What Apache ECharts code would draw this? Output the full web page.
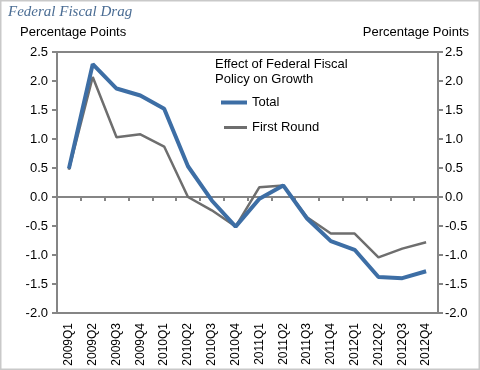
<!DOCTYPE html>
<html>
<head>
<meta charset="utf-8">
<script src="https://cdn.jsdelivr.net/npm/echarts@6/dist/echarts.min.js"></script>
<style>
html,body{margin:0;padding:0;background:#fff;}
#chart{width:480px;height:370px;}
</style>
</head>
<body>
<div id="chart"></div>
<script>
var categories = ["2009Q1","2009Q2","2009Q3","2009Q4","2010Q1","2010Q2","2010Q3","2010Q4","2011Q1","2011Q2","2011Q3","2011Q4","2012Q1","2012Q2","2012Q3","2012Q4"];
var totalValues = [0.49, 2.29, 1.87, 1.75, 1.52, 0.53, -0.06, -0.51, -0.03, 0.20, -0.37, -0.76, -0.91, -1.38, -1.40, -1.28];
var firstRoundValues = [0.47, 2.07, 1.03, 1.08, 0.87, 0.00, -0.23, -0.51, 0.17, 0.20, -0.35, -0.63, -0.63, -1.04, -0.89, -0.78];
var yMin = -2.0, yMax = 2.5, yStep = 0.5;
var seriesNames = ["Total", "First Round"];
var titleText = "Federal Fiscal Drag";
var axisTitle = "Percentage Points";
var legendTitle = ["Effect of Federal Fiscal", "Policy on Growth"];

var chart = echarts.init(document.getElementById('chart'), null, {renderer: 'canvas'});
var font = '"Liberation Sans", Arial, sans-serif';
var axisGray = '#858585';
var fmt = function (v) { return v.toFixed(1); };
var blue = '#3d6ea5', gray = '#6e6e6e';

var option = {
  backgroundColor: '#ffffff',
  animation: false,
  textStyle: {fontFamily: font},
  grid: {left: 57, right: 42, top: 52, bottom: 57, show: true, borderColor: axisGray, borderWidth: 2},
  graphic: [
    {type: 'rect', shape: {x: 0.5, y: 0.5, width: 479, height: 369}, style: {fill: 'none', stroke: '#c9c9c9', lineWidth: 2}, z: 100},
    {type: 'text', left: 8, top: 5, style: {text: titleText, font: 'italic 15px "Liberation Serif", "DejaVu Serif", serif', fill: '#4b6d94'}},
    {type: 'text', left: 20, top: 26, style: {text: axisTitle, font: '13px ' + font, fill: '#000'}},
    {type: 'text', right: 11, top: 26, style: {text: axisTitle, font: '13px ' + font, fill: '#000'}},
    {type: 'text', left: 215, top: 57, style: {text: legendTitle.join('\n'), font: '13px ' + font, fill: '#000', lineHeight: 15}}
  ],
  legend: [
    {
      orient: 'vertical', left: 216, top: 91, itemWidth: 26, itemHeight: 4, icon: 'rect',
      data: [seriesNames[0]], selectedMode: false,
      textStyle: {fontSize: 13, color: '#000', fontFamily: font}
    },
    {
      orient: 'vertical', left: 219, top: 116, itemWidth: 23, itemHeight: 3, icon: 'rect',
      data: [seriesNames[1]], selectedMode: false,
      textStyle: {fontSize: 13, color: '#000', fontFamily: font}
    }
  ],
  xAxis: [
    {
      type: 'category', data: categories, position: 'bottom',
      axisLine: {show: true, onZero: false, lineStyle: {color: axisGray, width: 2}},
      axisTick: {show: false},
      axisLabel: {rotate: 90, margin: 10, fontSize: 12, color: '#000', fontFamily: font, interval: 0}
    },
    {
      type: 'category', data: categories, position: 'bottom',
      axisLine: {show: true, onZero: true, onZeroAxisIndex: 0, lineStyle: {color: axisGray, width: 2}},
      axisTick: {show: true, length: 4, interval: 0, lineStyle: {color: axisGray, width: 2}},
      axisLabel: {show: false}
    }
  ],
  yAxis: [
    {
      type: 'value', min: yMin, max: yMax, interval: yStep, position: 'left',
      axisLine: {show: true, lineStyle: {color: axisGray, width: 2}},
      axisTick: {show: true, length: 5, lineStyle: {color: axisGray, width: 2}},
      splitLine: {show: false},
      axisLabel: {formatter: fmt, margin: 9, fontSize: 13, color: '#000', fontFamily: font}
    },
    {
      type: 'value', min: yMin, max: yMax, interval: yStep, position: 'right',
      axisLine: {show: true, lineStyle: {color: axisGray, width: 2}},
      axisTick: {show: true, length: 5, lineStyle: {color: axisGray, width: 2}},
      splitLine: {show: false},
      axisLabel: {formatter: fmt, margin: 7, fontSize: 13, color: '#000', fontFamily: font}
    }
  ],
  series: [
    {
      name: seriesNames[1], type: 'line', data: firstRoundValues, xAxisIndex: 0, yAxisIndex: 0,
      symbol: 'none', lineStyle: {color: gray, width: 2.5}, itemStyle: {color: gray}, z: 2
    },
    {
      name: seriesNames[0], type: 'line', data: totalValues, xAxisIndex: 0, yAxisIndex: 0,
      symbol: 'none', lineStyle: {color: blue, width: 4}, itemStyle: {color: blue}, z: 3
    }
  ]
};
chart.setOption(option);
</script>
</body>
</html>
